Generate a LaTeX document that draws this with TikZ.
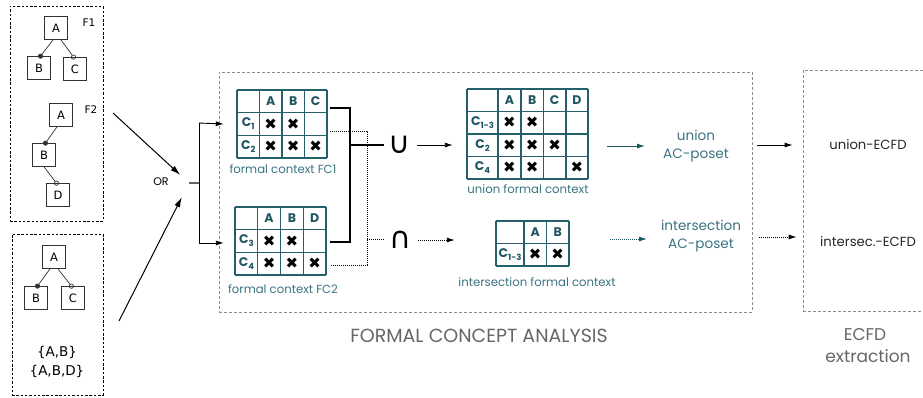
\documentclass[tikz,border=0pt]{standalone}
\usepackage{fontspec}
\usetikzlibrary{arrows.meta,fit}
\newfontfamily\dvs{DejaVu Sans}
\newfontfamily\pop{Poppins}
\definecolor{fcateal}{HTML}{23606B}
\definecolor{fcatext}{HTML}{1E5662}
\definecolor{fcacap}{HTML}{3A7380}
\definecolor{fcagray}{HTML}{666666}
\newcommand\sbx[1]{\raisebox{-3pt}{\fontsize{8.5}{9}\selectfont #1}}
\begin{document}
\begin{tikzpicture}[x=1pt,y=-1pt,
  tnode/.style={draw=black!80,line width=0.7pt,minimum width=23pt,minimum height=23pt,inner sep=0pt,font=\dvs\fontsize{11.5}{13}\selectfont},
  tedge/.style={draw=black!80,line width=0.7pt},
  mand/.style={tedge,-{Circle[length=5pt]}},
  opt/.style={tedge,-{Circle[open,length=5pt]}},
  lbox/.style={draw=black,line width=0.8pt,dash pattern=on 2.5pt off 1.8pt},
  gbox/.style={draw=black!45,line width=0.7pt,dash pattern=on 3pt off 2pt,inner sep=0pt},
  gline/.style={draw=fcateal,line width=1.1pt},
  hd/.style={text=fcatext,font=\pop\bfseries\fontsize{12.5}{13}\selectfont,inner sep=0pt},
  xm/.style={font=\dvs\fontsize{15}{16}\selectfont,inner sep=0pt},
  capt/.style={text=fcacap,font=\pop\fontsize{11.7}{13}\selectfont,inner sep=0pt},
  bigarr/.style={line width=1pt,-{Latex[length=10pt,width=6pt]}},
  arr/.style={line width=0.9pt,-{Latex[length=8pt,width=5pt]}},
  solidc/.style={line width=1.3pt,draw=black},
  dotc/.style={line width=1pt,draw=black,dash pattern=on 1pt off 1pt},
  setop/.style={font=\dvs\fontsize{30}{32}\selectfont,inner sep=0pt,minimum width=30pt},
  poset/.style={text=fcacap,font=\pop\fontsize{13.6}{18}\selectfont,align=center,inner sep=0pt},
  ecfd/.style={text=black!85,font=\pop\fontsize{13.2}{15}\selectfont,inner sep=0pt},
  bottomlab/.style={text=fcagray,font=\pop\fontsize{17}{20}\selectfont,inner sep=0pt,anchor=base},
]
\useasboundingbox (0,0) rectangle (923,397);

% ---------- left boxes ----------
\node[lbox,fit={(10,6) (103,221)},inner sep=0pt] (lb1) {};
\node[lbox,fit={(12,234) (103,395)},inner sep=0pt] (lb2) {};

% F1
\node[tnode] (f1a) at (56,28) {A};
\node[tnode] (f1b) at (39,68) {B};
\node[tnode] (f1c) at (75,69) {C};
\draw[mand] ([xshift=-3pt]f1a.south) -- ([yshift=-2pt]f1b.north);
\draw[opt] ([xshift=5pt]f1a.south) -- ([yshift=-2pt]f1c.north);
\node[font=\dvs\fontsize{10.5}{12}\selectfont] (f1l) at (89,23) {F1};

% F2
\node[tnode] (f2a) at (61,115) {A};
\node[tnode] (f2b) at (44,155) {B};
\node[tnode] (f2d) at (58,195) {D};
\draw[mand] ([xshift=-4pt]f2a.south) -- ([yshift=-2pt]f2b.north);
\draw[opt] (f2b.south) -- ([yshift=-2pt]f2d.north);
\node[font=\dvs\fontsize{10.5}{12}\selectfont] (f2l) at (91,110) {F2};

% third tree
\node[tnode] (g1a) at (54,257) {A};
\node[tnode] (g1b) at (36,298) {B};
\node[tnode] (g1c) at (73,298) {C};
\draw[mand] ([xshift=-4pt]g1a.south) -- ([yshift=-2pt]g1b.north);
\draw[opt] ([xshift=4pt]g1a.south) -- ([yshift=-2pt]g1c.north);
\node[font=\dvs\fontsize{13.5}{19}\selectfont,align=center,inner sep=0pt] (sets) at (57,362) {\{A,B\}\\\{A,B,D\}};

% ---------- OR junction ----------
\coordinate (s1) at (113,113);
\coordinate (s2) at (119,321);
\coordinate (join) at (189,183);
\coordinate (br) at (199,183);
\node[font=\pop\fontsize{11}{12}\selectfont,inner sep=0pt] (or) at (161,182) {OR};
\draw[bigarr,shorten >=12pt] (s1) -- (join);
\draw[bigarr,shorten >=16pt] (s2) -- (join);
\draw[draw=black!60,line width=1.3pt] (join) -- (br);

% ---------- FCA box ----------
\node[gbox,fit={(219,72) (752,312)}] (fca) {};
\node[gbox,fit={(803,70) (930,311)}] (ecfdbox) {};

% ---------- FC1 table ----------
\node[fit={(237,90) (327,158)},inner sep=0pt] (fc1) {};
\foreach \x in {237,259.5,282,304.5,327} \draw[gline] (\x,90) -- (\x,158);
\foreach \y in {90,112.67,135.33,158} \draw[gline] (237,\y) -- (327,\y);
\node[hd] (fc1A) at (270.75,101.3) {A};
\node[hd] (fc1B) at (293.25,101.3) {B};
\node[hd] (fc1C) at (315.75,101.3) {C};
\node[hd] (fc1r1) at (248.25,124) {C\sbx{1}};
\node[hd] (fc1r2) at (248.25,146.7) {C\sbx{2}};
\node[xm] (fc1x11) at (270.75,124) {✖};
\node[xm] (fc1x12) at (293.25,124) {✖};
\node[xm] (fc1x21) at (270.75,146.7) {✖};
\node[xm] (fc1x22) at (293.25,146.7) {✖};
\node[xm] (fc1x23) at (315.75,146.7) {✖};
\node[capt] (fc1cap) at (283,169) {formal context FC1};

% ---------- FC2 table ----------
\node[fit={(235,207) (326,275)},inner sep=0pt] (fc2) {};
\foreach \x in {235,257.75,280.5,303.25,326} \draw[gline] (\x,207) -- (\x,275);
\foreach \y in {207,229.67,252.33,275} \draw[gline] (235,\y) -- (326,\y);
\node[hd] (fc2A) at (269.1,218.3) {A};
\node[hd] (fc2B) at (291.9,218.3) {B};
\node[hd] (fc2D) at (314.6,218.3) {D};
\node[hd] (fc2r1) at (246.4,241) {C\sbx{3}};
\node[hd] (fc2r2) at (246.4,263.7) {C\sbx{4}};
\node[xm] (fc2x11) at (269.1,241) {✖};
\node[xm] (fc2x12) at (291.9,241) {✖};
\node[xm] (fc2x21) at (269.1,263.7) {✖};
\node[xm] (fc2x22) at (291.9,263.7) {✖};
\node[xm] (fc2x23) at (314.6,263.7) {✖};
\node[capt] (fc2cap) at (283,289) {formal context FC2};

% branch arrows into tables
\draw[line width=0.9pt] (br) -- (199,123);
\draw[line width=0.9pt] (br) -- (199,243);
\draw[arr] (199,123) -- ([xshift=-13pt]fc1.west);
\draw[arr] (199,243) -- ([xshift=-11pt,yshift=-2pt]fc2.west);

% ---------- set operators ----------
\node[setop] (U) at (399,145) {∪};
\node[setop] (I) at (400,240) {∩};
\coordinate (p1) at (330,108);
\coordinate (p2) at (330,242);
\coordinate (q1) at (330,131);
\coordinate (q2) at (330,265);
\draw[solidc] (p1) -- (350,108) -- (350,242) -- (p2);
\draw[solidc] (350,145) -- (U.west);
\draw[dotc] (q1) -- (367,131) -- (367,265) -- (q2);
\draw[dotc] (367,239) -- ([yshift=1pt]I.west);

% ---------- union table ----------
\node[fit={(467,89) (588,179)},inner sep=0pt] (uni) {};
\foreach \x in {467,498,521,543.5,566,588} \draw[gline] (\x,89) -- (\x,179);
\foreach \y in {89,111.5,134,156.5,179} \draw[gline] (467,\y) -- (588,\y);
\node[hd] (uA) at (509.5,100.25) {A};
\node[hd] (uB) at (532.25,100.25) {B};
\node[hd] (uC) at (554.75,100.25) {C};
\node[hd] (uD) at (577,100.25) {D};
\node[hd] (ur1) at (482.5,122.75) {C\sbx{1-3}};
\node[hd] (ur2) at (482.5,145.25) {C\sbx{2}};
\node[hd] (ur3) at (482.5,167.75) {C\sbx{4}};
\node[xm] (ux11) at (509.5,122.75) {✖};
\node[xm] (ux12) at (532.25,122.75) {✖};
\node[xm] (ux21) at (509.5,145.25) {✖};
\node[xm] (ux22) at (532.25,145.25) {✖};
\node[xm] (ux23) at (554.75,145.25) {✖};
\node[xm] (ux31) at (509.5,167.75) {✖};
\node[xm] (ux32) at (532.25,167.75) {✖};
\node[xm] (ux34) at (577,167.75) {✖};
\node[capt] (unicap) at (528,189) {union formal context};

% ---------- intersection table ----------
\node[fit={(496,221) (569,266)},inner sep=0pt] (int) {};
\foreach \x in {496,524,546.5,569} \draw[gline] (\x,221) -- (\x,266);
\foreach \y in {221,243.5,266} \draw[gline] (496,\y) -- (569,\y);
\node[hd] (iA) at (535.25,232.25) {A};
\node[hd] (iB) at (557.75,232.25) {B};
\node[hd] (ir1) at (510,254.75) {C\sbx{1-3}};
\node[xm] (ix11) at (535.25,254.75) {✖};
\node[xm] (ix12) at (557.75,254.75) {✖};
\node[capt] (intcap) at (537,282) {intersection formal context};

\draw[arr] (417,145) -- ([xshift=-14pt]uni.west|-U.east);
\draw[arr,dash pattern=on 1pt off 1pt] (418,240) -- ([xshift=-41pt]int.west|-I.east);

% ---------- AC-posets ----------
\node[poset] (up) at (696,146) {union\\AC-poset};
\node[poset] (ip) at (701,236) {intersection\\AC-poset};
\draw[arr,draw=fcatext,-{Latex[length=8pt,width=5pt,fcatext]}] (607,146) -- (up.west-|645,146);
\draw[arr,draw=fcatext,dash pattern=on 1pt off 1pt,-{Latex[length=8pt,width=5pt,fcatext]}] (610,239) -- (647,239);

% ---------- ECFD ----------
\node[ecfd] (ue) at (868,145) {union-ECFD};
\node[ecfd] (ie) at (868,242) {intersec.-ECFD};
\draw[arr] ([xshift=5pt]fca.east|-ue) -- ([xshift=-10pt]ecfdbox.west|-ue);
\draw[arr,dash pattern=on 1pt off 1pt] ([xshift=7pt]fca.east|-0,237) -- ([xshift=-6pt]ecfdbox.west|-0,237);

\node[text=fcagray,font=\pop\fontsize{19}{22}\selectfont,inner sep=0pt] (fcalab) at (479,336) {FORMAL CONCEPT ANALYSIS};
\node[bottomlab] (ecfdlab1) at (865,340) {ECFD};
\node[bottomlab] (ecfdlab2) at (868,362) {extraction};
\end{tikzpicture}
\end{document}
